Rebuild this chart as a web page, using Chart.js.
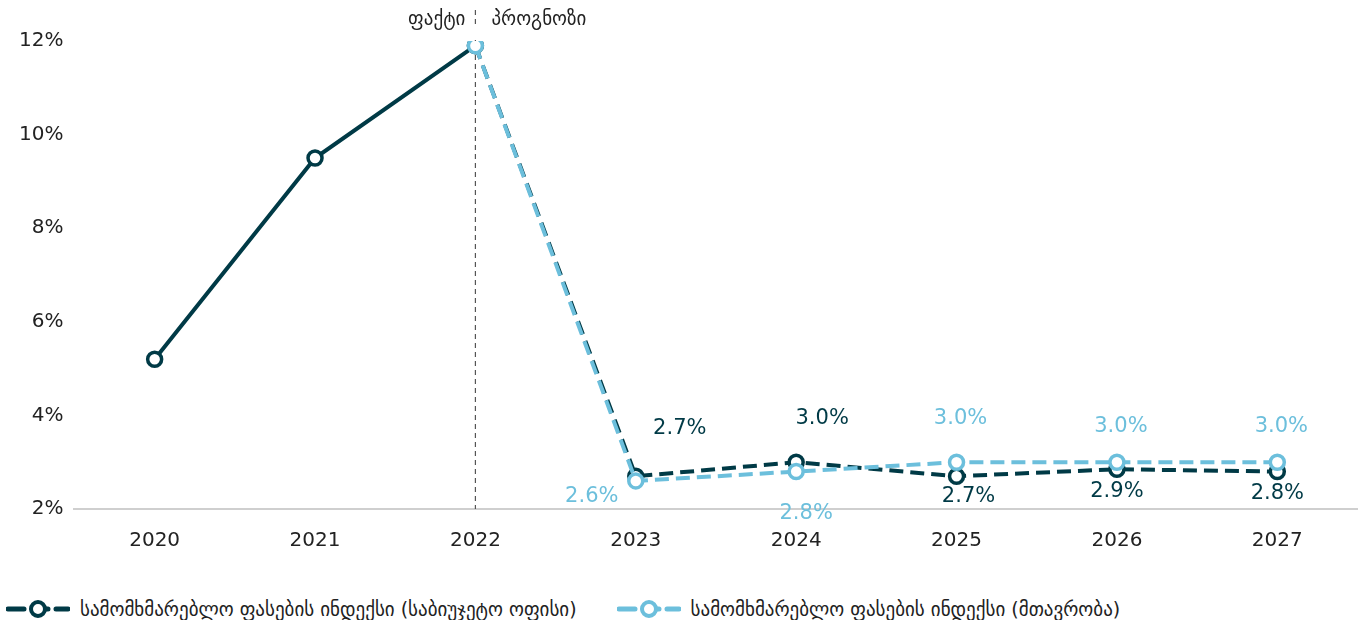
<!DOCTYPE html>
<html>
<head>
<meta charset="utf-8">
<script src="https://cdn.jsdelivr.net/npm/chart.js@4"></script>
<style>
  body { margin: 0; background: #fff; font-family: "DejaVu Sans", sans-serif; }
  #wrap { position: relative; width: 1368px; height: 565px; }
  #legend { display: flex; gap: 40px; padding-left: 6px; margin-top: 33px; font-size: 19px; color: #222; }
  .item { display: flex; align-items: center; gap: 10px; }
</style>
</head>
<body>
<div id="wrap"><canvas id="c"></canvas></div>
<div id="legend"></div>
<script>
const anos = ['2020', '2021', '2022', '2023', '2024', '2025', '2026', '2027'];
const cpiOficina = [5.2, 9.5, 11.9, 2.7, 3.0, 2.7, 2.85, 2.8];
const cpiGobierno = [null, null, 11.9, 2.6, 2.8, 3.0, 3.0, 3.0];
const nombres = ['სამომხმარებლო ფასების ინდექსი (საბიუჯეტო ოფისი)', 'სამომხმარებლო ფასების ინდექსი (მთავრობა)'];
const etiquetaFacto = 'ფაქტი';
const etiquetaPronostico = 'პროგნოზი';

const OSCURO = '#003a46';
const CLARO = '#6cbfdc';
const FUENTE = '"DejaVu Sans", sans-serif';

// desplazamientos de etiquetas (dx, dy) por punto
const despOscuro = [null, null, null, [44, -48], [26, -44], [12, 20], [0, 22], [0, 22]];
const despClaro = [null, null, null, [-44, 16], [10, 42], [4, -44], [4, -36], [4, -36]];

const etiquetas = {
  id: 'etiquetas',
  afterDatasetsDraw(chart) {
    const ctx = chart.ctx;
    ctx.save();
    ctx.font = '21px ' + FUENTE;
    ctx.textAlign = 'center';
    ctx.textBaseline = 'middle';
    [[0, despOscuro, OSCURO], [1, despClaro, CLARO]].forEach(([i, desp, color]) => {
      const meta = chart.getDatasetMeta(i);
      const datos = chart.data.datasets[i].data;
      meta.data.forEach((p, j) => {
        if (!desp[j] || datos[j] == null) return;
        ctx.fillStyle = color;
        ctx.fillText(datos[j].toFixed(1) + '%', p.x + desp[j][0], p.y + desp[j][1]);
      });
    });
    ctx.restore();
  },
  beforeDatasetsDraw(chart) {
    // línea vertical hecho / pronóstico
    const ctx = chart.ctx;
    ctx.save();
    const x = chart.scales.x.getPixelForValue(2);
    const base = chart.scales.y.bottom;
    ctx.strokeStyle = '#555';
    ctx.lineWidth = 1.2;
    ctx.setLineDash([5, 4]);
    ctx.beginPath();
    ctx.moveTo(x, 10);
    ctx.lineTo(x, base);
    ctx.stroke();
    ctx.setLineDash([]);
    ctx.fillStyle = '#fff';
    ctx.fillRect(x - 2, 28, 4, 12);
    ctx.fillStyle = '#222';
    ctx.font = '19px ' + FUENTE;
    ctx.textAlign = 'right';
    ctx.textBaseline = 'middle';
    ctx.fillText(etiquetaFacto, x - 10, 20);
    ctx.textAlign = 'left';
    ctx.fillText(etiquetaPronostico, x + 16, 20);
    ctx.restore();
  }
};

const discontinuo = (desde) => ({
  borderDash: ctx => ctx.p0DataIndex >= desde ? [14, 7] : undefined
});

new Chart(document.getElementById('c'), {
  type: 'line',
  data: {
    labels: anos,
    datasets: [
      {
        label: nombres[0], data: cpiOficina, borderColor: OSCURO, borderWidth: 4, order: 2,
        pointRadius: 7, pointBorderWidth: 3.5, pointBackgroundColor: '#fff', pointBorderColor: OSCURO,
        segment: discontinuo(2), tension: 0,
      },
      {
        label: nombres[1], data: cpiGobierno, borderColor: CLARO, borderWidth: 4, order: 1,
        pointRadius: 7, pointBorderWidth: 3.5, pointBackgroundColor: '#fff', pointBorderColor: CLARO,
        segment: discontinuo(0), tension: 0,
      },
    ],
  },
  options: {
    responsive: true,
    maintainAspectRatio: false,
    animation: false,
    layout: { padding: { top: 41, right: -34, left: 16 } },
    plugins: { legend: { display: false }, tooltip: { enabled: false } },
    scales: {
      x: {
        offset: true,
        grid: { display: false },
        border: { color: '#cfcfcf', width: 2 },
        ticks: { color: '#222', font: { size: 20, family: FUENTE }, padding: 12 },
      },
      y: {
        min: 2, max: 12,
        grid: { display: false },
        border: { display: false },
        ticks: { stepSize: 2, color: '#222', font: { size: 20, family: FUENTE }, callback: v => v + '%' },
      },
    },
  },
  plugins: [etiquetas],
});

// leyenda HTML
const leyenda = document.getElementById('legend');
[[OSCURO, nombres[0]], [CLARO, nombres[1]]].forEach(([color, texto]) => {
  const el = document.createElement('div');
  el.className = 'item';
  el.innerHTML = '<svg width="64" height="22"><line x1="2" y1="11" x2="62" y2="11" stroke="' + color +
    '" stroke-width="5" stroke-dasharray="16 8" stroke-linecap="round"/><circle cx="32" cy="11" r="7" fill="#fff" stroke="' +
    color + '" stroke-width="4"/></svg><span>' + texto + '</span>';
  leyenda.appendChild(el);
});
</script>
</body>
</html>
